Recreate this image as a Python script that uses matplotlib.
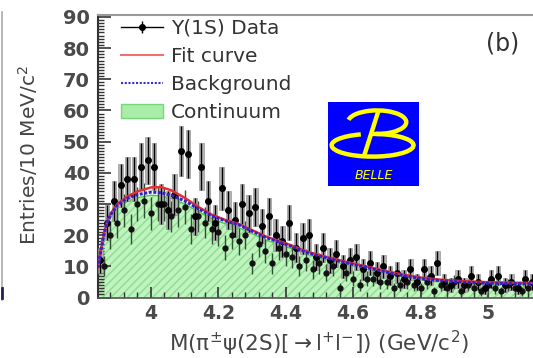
import numpy as np
import matplotlib.pyplot as plt
from matplotlib.lines import Line2D
from matplotlib.patches import Patch, Rectangle, Arc
from matplotlib.ticker import MultipleLocator

plt.rcParams['font.family'] = ['DejaVu Sans']
plt.rcParams['mathtext.fontset'] = 'dejavusans'

# Y(1S) data, 20 MeV steps starting at 3.85 GeV
y1s_start = 3.85
y1s_counts = [12, 24, 31, 36, 38, 38, 42, 44, 42, 30,
              28, 33, 47, 46, 26, 42, 31, 24, 35, 28,
              25, 30, 27, 29, 23, 26, 20, 18, 24, 16,
              19, 20, 13, 16, 12, 14, 10, 12, 13, 9,
              11, 8, 10, 7, 8, 6, 9, 5, 9, 7,
              11, 5, 4, 6, 4, 7, 5, 3, 6, 7,
              4, 5, 3, 6, 5]

# continuum points, offset by 10 MeV
cont_start = 3.86
cont_counts = [10, 20, 24, 28, 22, 30, 31, 27, 30, 30,
               26, 28, 29, 22, 26, 24, 22, 21, 16, 20,
               18, 20, 11, 17, 15, 11, 16, 14, 13, 10,
               12, 9, 11, 8, 10, 3, 8, 6, 4, 6,
               6, 5, 5, 3, 4, 5, 4, 3, 5, 2,
               4, 3, 5, 2, 4, 3, 2, 4, 3, 2,
               4, 3, 2, 3]

# fitted shapes
curve_m = [3.843, 3.85, 3.86, 3.87, 3.88, 3.90, 3.93, 3.96, 4.00, 4.03,
           4.06, 4.10, 4.14, 4.18, 4.22, 4.26, 4.30, 4.34, 4.38, 4.42,
           4.46, 4.50, 4.55, 4.60, 4.65, 4.70, 4.75, 4.80, 4.85, 4.90,
           4.95, 5.00, 5.05, 5.10, 5.20]
fit_curve = [9.8, 14.3, 20.3, 24.3, 26.8, 29.9, 32.4, 34.0, 35.3, 35.4,
             34.4, 32.0, 29.1, 26.6, 24.9, 23.6, 21.6, 19.6, 18.1, 16.6,
             14.8, 13.6, 12.2, 10.9, 9.7, 8.4, 7.3, 6.4, 5.8, 5.4,
             5.1, 4.9, 4.8, 4.7, 4.6]
background = [9.5, 14.0, 20.0, 24.0, 26.5, 29.5, 31.8, 33.0, 33.8, 33.6,
              32.8, 31.0, 28.5, 26.2, 24.6, 23.3, 21.3, 19.3, 17.8, 16.3,
              14.5, 13.3, 11.9, 10.6, 9.4, 8.1, 7.0, 6.1, 5.5, 5.1,
              4.8, 4.6, 4.5, 4.4, 4.3]
continuum = [9.0, 13.0, 19.0, 23.0, 25.5, 28.5, 30.8, 32.0, 32.8, 32.6,
             31.8, 30.0, 27.6, 25.3, 23.7, 22.4, 20.5, 18.5, 17.0, 15.6,
             13.9, 12.7, 11.3, 10.1, 8.9, 7.7, 6.6, 5.7, 5.1, 4.7,
             4.5, 4.3, 4.2, 4.1, 4.0]

xticks = [4, 4.2, 4.4, 4.6, 4.8, 5]
xtick_labels = ['4', '4.2', '4.4', '4.6', '4.8', '5']

y1s = np.array(y1s_counts, dtype=float)
x1s = y1s_start + 0.02 * np.arange(len(y1s))
e1s = 1.15 * np.sqrt(y1s)
yc = np.array(cont_counts, dtype=float)
xc = cont_start + 0.02 * np.arange(len(yc))
ec = np.sqrt(yc)

fig = plt.figure(figsize=(5.33, 3.58), dpi=100)
W, H = 533, 358
px_per_gev = 337
ax_w = (5.2 - 3.843) * px_per_gev
ax_h = 297.5 - 15
ax = fig.add_axes([98 / W, (H - 297.5) / H, ax_w / W, ax_h / H])
ax.set_xlim(3.843, 5.2)
ax.set_ylim(0, 90.6)

# continuum: light green with hatching
ax.fill_between(curve_m, 0, continuum, color='#bff3bf', lw=0, zorder=1)
ax.fill_between(curve_m, 0, continuum, facecolor='none', edgecolor='#8fdc8f',
                hatch='////', lw=0, zorder=1)
ax.plot(curve_m, continuum, color='#44cc44', lw=1.0, zorder=2)

ax.errorbar(xc, yc, yerr=ec, fmt='o', color='#111111', ecolor='#2f4f2f',
            elinewidth=1.0, markersize=3.5, zorder=3)

# Y(1S): gray error boxes plus black bars
ax.bar(x1s, 2 * e1s, bottom=y1s - e1s, width=0.013, color='#b4b4b4',
       edgecolor='#888888', lw=0.4, zorder=3)
ax.errorbar(x1s, y1s, yerr=e1s, fmt='o', color='black', elinewidth=1.0,
            markersize=4, zorder=4)

ax.plot(curve_m, fit_curve, color='#e83030', lw=1.8, zorder=5)
ax.plot(curve_m, background, color='#3322cc', lw=2.2, ls=(0, (1, 0.5)), zorder=6)

ax.set_xticks(xticks)
ax.set_xticklabels(xtick_labels)
ax.xaxis.set_minor_locator(MultipleLocator(0.04))
ax.yaxis.set_major_locator(MultipleLocator(10))
ax.yaxis.set_minor_locator(MultipleLocator(1))
ax.tick_params(axis='both', which='both', direction='in', colors='#333333')
ax.tick_params(axis='y', which='major', length=9, width=1.2, pad=6,
               labelsize=14, labelcolor='#4a4a4a')
ax.tick_params(axis='y', which='minor', length=4.5, width=1.0)
ax.tick_params(axis='x', which='major', length=8, width=1.2, pad=5,
               labelsize=13.5, labelcolor='#4a4a4a')
ax.tick_params(axis='x', which='minor', length=4, width=1.0)
for lab in ax.get_yticklabels() + ax.get_xticklabels():
    lab.set_fontweight('bold')

ax.spines['left'].set_color('#333333')
ax.spines['left'].set_linewidth(1.5)
ax.spines['bottom'].set_color('#555555')
ax.spines['bottom'].set_linewidth(1.2)
ax.spines['top'].set_color('#999999')
ax.spines['top'].set_linewidth(1.5)
ax.spines['right'].set_visible(False)

ax.set_xlabel(r'M(π$^{\pm}$ψ(2S)[$\rightarrow$l$^{+}$l$^{-}$]) (GeV/c$^{2}$)',
              fontsize=15.5, color='#444444', va='center')
ax.xaxis.set_label_coords((319 - 98) / ax_w, -(343 - 297.5) / ax_h)
ax.set_ylabel('Entries/10 MeV/c$^{2}$', fontsize=14.5, color='#444444', va='center')
ax.yaxis.set_label_coords(-(98 - 28) / ax_w, (297.5 - 155) / ax_h)

h_data = (Line2D([], [], color='black', lw=1.0, marker='o', markersize=4),
          Line2D([], [], color='black', lw=0, marker='|', markersize=9))
h_fit = Line2D([], [], color='#ee7070', lw=1.5)
h_bkg = Line2D([], [], color='#3333cc', lw=1.5, ls=(0, (1, 0.8)))
h_cont = Patch(facecolor='#a8eea8', edgecolor='#77d877')
leg = ax.legend([h_data, h_fit, h_bkg, h_cont],
                ['Y(1S) Data', 'Fit curve', 'Background', 'Continuum'],
                loc='upper left', bbox_to_anchor=(121 / W, 1 - 19 / H),
                bbox_transform=fig.transFigure, frameon=False, fontsize=14.5,
                handlelength=2.1, handletextpad=0.4, labelspacing=0.45,
                borderpad=0, borderaxespad=0)
for t in leg.get_texts():
    t.set_color('#333333')

fig.text(503 / W, 1 - 43 / H, '(b)', ha='center', va='center',
         fontsize=17, color='#333333')

# BELLE logo
logo = fig.add_axes([328 / W, 1 - 186 / H, 91 / W, 84 / H])
logo.set_xlim(0, 1)
logo.set_ylim(0, 1)
logo.set_axis_off()
logo.add_patch(Rectangle((0, 0), 1, 1, color='#0000ff', transform=logo.transAxes))
logo.add_patch(Arc((0.54, 0.76), 0.64, 0.28, theta1=-95, theta2=175,
                   color='#ffff00', lw=3.2))
logo.add_patch(Arc((0.49, 0.485), 0.90, 0.27, theta1=135, theta2=455,
                   color='#ffff00', lw=3.2))
logo.plot([0.55, 0.40], [0.88, 0.37], color='#ffff00', lw=3.2, solid_capstyle='round')
logo.text(0.5, 0.12, 'BELLE', ha='center', va='center', fontsize=9,
          style='italic', color='#ffff00')

# edge of the neighbouring panel
fig.add_artist(Line2D([2 / W, 2 / W], [1 - 12 / H, 1 - 300 / H],
                      transform=fig.transFigure, color='#aaaaaa', lw=1.2))
fig.add_artist(Line2D([2 / W, 2 / W], [1 - 288 / H, 1 - 298 / H],
                      transform=fig.transFigure, color='#222255', lw=2))

fig.savefig('out.png', dpi=100)
